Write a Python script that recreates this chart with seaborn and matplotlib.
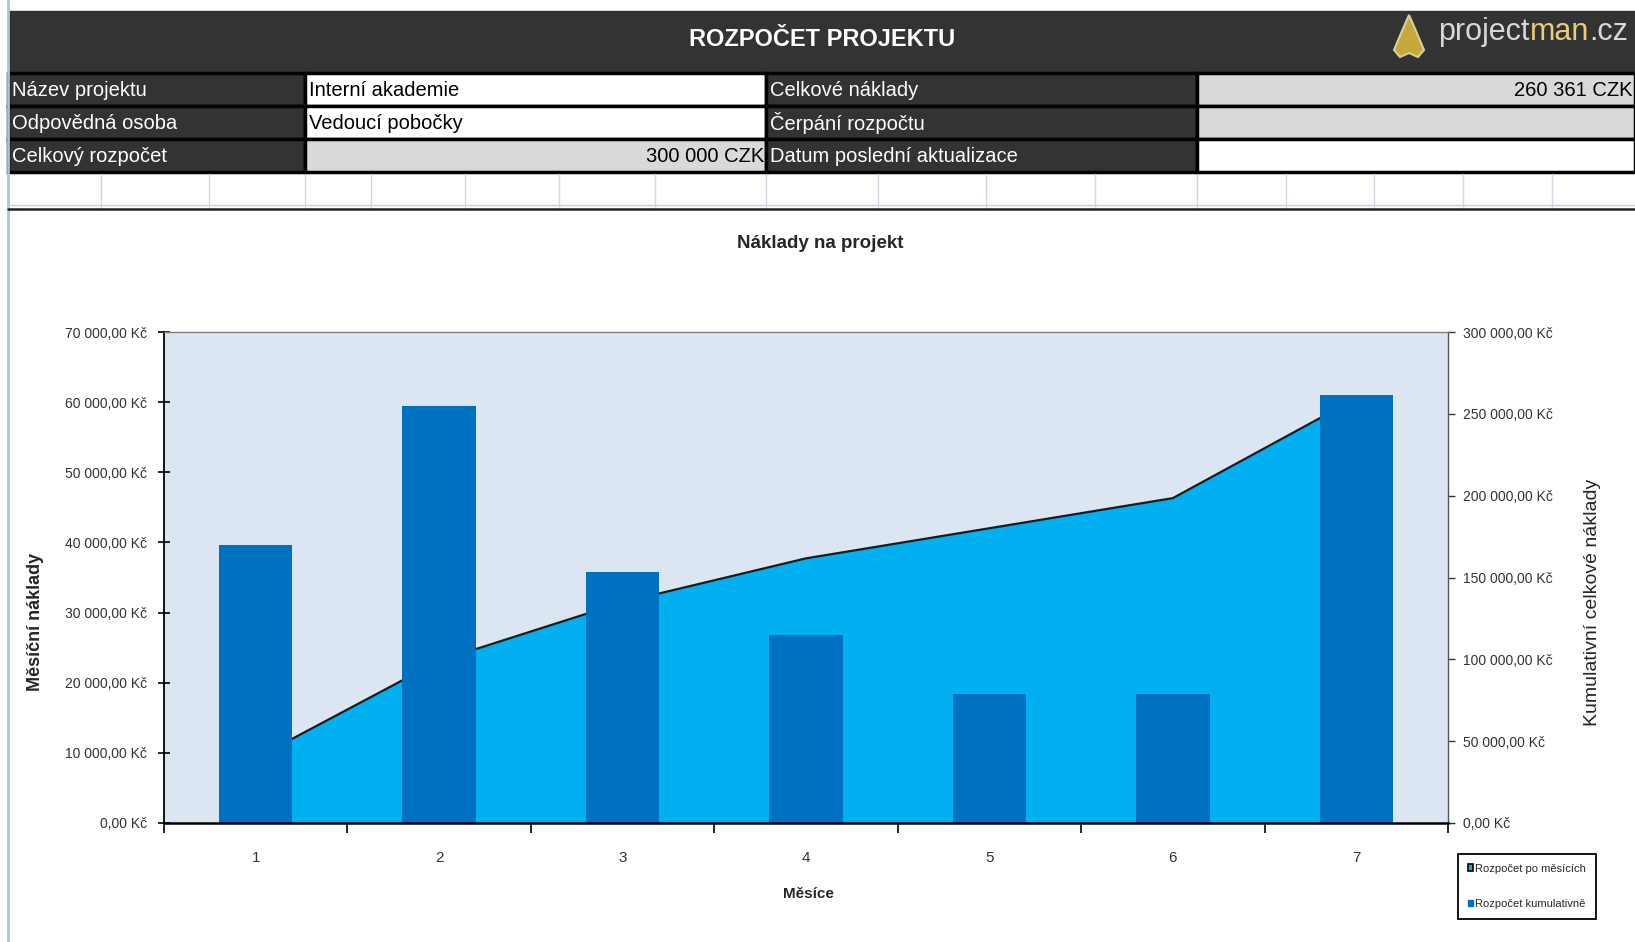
import numpy as np
import matplotlib
matplotlib.use('Agg')
import matplotlib.pyplot as plt
import seaborn as sns
from matplotlib.patches import Rectangle, Polygon, Patch
from matplotlib.offsetbox import TextArea, HPacker, AnnotationBbox

# data
months = ['1', '2', '3', '4', '5', '6', '7']
monthly = [39600, 59500, 35800, 26800, 18400, 18400, 61000]
cumulative = [39600, 99100, 134900, 161700, 180100, 198500, 259500]
left_ticks = [0, 10000, 20000, 30000, 40000, 50000, 60000, 70000]
right_ticks = [0, 50000, 100000, 150000, 200000, 250000, 300000]

header_title = 'ROZPOČET PROJEKTU'
header_rows = [
    ('Název projektu', 'Interní akademie', 'Celkové náklady', '260 361 CZK'),
    ('Odpovědná osoba', 'Vedoucí pobočky', 'Čerpání rozpočtu', ''),
    ('Celkový rozpočet', '300 000 CZK', 'Datum poslední aktualizace', ''),
]
value_fill = [('white', '#D9D9D9'), ('white', '#D9D9D9'), ('#D9D9D9', 'white')]
value_align = [('left', 'right'), ('left', 'right'), ('right', 'right')]
legend_labels = ['Rozpočet po měsících', 'Rozpočet kumulativně']

sns.set_style('white')
FONT = ['Liberation Sans', 'DejaVu Sans']
plt.rcParams['font.family'] = FONT

BAR = '#0070C0'
AREA = '#00B0F0'
PLOT_BG = '#DCE6F2'
DARK = '#333333'

W, H = 1635, 942
fig = plt.figure(figsize=(W / 100, H / 100), dpi=100)

# background axes in pixel coordinates for the spreadsheet header
bg = fig.add_axes([0, 0, 1, 1], zorder=0)
bg.set_xlim(0, W)
bg.set_ylim(H, 0)
bg.axis('off')

bg.plot([8, 8], [0, H], color='#A9C4E0', lw=2)
bg.add_patch(Rectangle((8, 11), W - 8, 61, color=DARK))
bg.text(822, 40, header_title, color='white', fontsize=17, fontweight='bold',
        ha='center', va='center')

# logo
bg.add_patch(Polygon([[1409, 15], [1416, 31], [1424, 50], [1418, 57], [1409, 53],
                      [1400, 57], [1394, 50], [1402, 31]], closed=True,
                     facecolor='#C8A83A', edgecolor='#D8CFA0', lw=1.5))
logo = HPacker(children=[
    TextArea('project', textprops=dict(color='#D8D8D8', fontsize=22)),
    TextArea('man', textprops=dict(color='#E6CF7A', fontsize=22)),
    TextArea('.cz', textprops=dict(color='#D8D8D8', fontsize=22)),
], align='baseline', pad=0, sep=0)
bg.add_artist(AnnotationBbox(logo, (1628, 32), xycoords='data', box_alignment=(1, 0.5),
                             frameon=False, pad=0))

cols = [8, 305, 766, 1197, W]
row_top = [73, 106, 139]
row_h = 33
for i, (l1, v1, l2, v2) in enumerate(header_rows):
    y0 = row_top[i]
    cells = [(l1, DARK, 'white', 'left'), (v1, value_fill[i][0], 'black', value_align[i][0]),
             (l2, DARK, 'white', 'left'), (v2, value_fill[i][1], 'black', value_align[i][1])]
    for j, (txt, fc, tc, ha) in enumerate(cells):
        x0, x1 = cols[j], cols[j + 1]
        bg.add_patch(Rectangle((x0, y0), x1 - x0, row_h, facecolor=fc, edgecolor='black', lw=2.5))
        tx = x0 + 4 if ha == 'left' else x1 - 2
        bg.text(tx, y0 + row_h / 2 + 1, txt, color=tc, fontsize=14.5, ha=ha, va='center')

# empty spreadsheet row with grid lines
for gx in [101, 209, 305, 371, 465, 559, 655, 766, 878, 986, 1095, 1197, 1286, 1374, 1463, 1552]:
    bg.plot([gx, gx], [174, 208], color='#D0D7E5', lw=1)
bg.plot([8, W], [205, 205], color='#C8D0DC', lw=1)
bg.plot([8, W], [209, 209], color='#222222', lw=1.8)

fig.text(820 / W, 1 - 244 / H, 'Náklady na projekt', fontsize=13.5, fontweight='bold',
         ha='center', va='center')

# chart axes
ax = fig.add_axes([164 / W, 1 - 823 / H, (1448 - 164) / W, (823 - 332) / H], zorder=2)
ax2 = ax.twinx()
ax.set_zorder(3)
ax.patch.set_visible(False)
ax2.patch.set_visible(True)
ax2.patch.set_facecolor(PLOT_BG)

xs = np.arange(len(months))
ax2.fill_between(xs, cumulative, color=AREA, lw=0)
sns.lineplot(x=xs, y=cumulative, ax=ax2, color='#1A1A1A', linewidth=1.6)
sns.barplot(x=months, y=monthly, ax=ax, color=BAR, saturation=1, width=0.4, linewidth=0)

ax.set_xlim(-0.5, 6.5)
ax.set_ylim(0, 70000)
ax2.set_ylim(0, 300000)


def kc(v):
    return f'{v:,.2f}'.replace(',', ' ').replace('.', ',') + ' Kč'


ax.set_yticks(left_ticks)
ax.set_yticklabels([kc(v) for v in left_ticks], fontsize=10, color='#333333')
ax2.set_yticks(right_ticks)
ax2.set_yticklabels([kc(v) for v in right_ticks], fontsize=10, color='#333333')
ax.tick_params(axis='y', direction='inout', length=8, width=1.2, color='black', pad=8, left=True)
ax2.tick_params(axis='y', direction='out', length=5, width=1, color='#333333', pad=6, right=True)

ax.set_xticks(xs)
ax.set_xticklabels(months, fontsize=11, color='#333333')
ax.set_xticks(np.arange(-0.5, 7, 1), minor=True)
ax.tick_params(axis='x', which='major', length=0, pad=20)
ax.tick_params(axis='x', which='minor', direction='out', length=7, width=1.2, color='black', bottom=True)

for s in ['top', 'right', 'left', 'bottom']:
    ax2.spines[s].set_visible(False)
ax.spines['right'].set_visible(False)
ax.spines['left'].set_color('black')
ax.spines['left'].set_linewidth(1.3)
ax.spines['bottom'].set_color('black')
ax.spines['bottom'].set_linewidth(1.8)
ax.spines['top'].set_color('#808080')
ax.spines['top'].set_linewidth(1)
ax2.spines['right'].set_visible(True)
ax2.spines['right'].set_color('#555555')
ax2.spines['right'].set_linewidth(1)

ax.set_xlabel('')
ax.set_ylabel('')
ax2.set_xlabel('')
ax2.set_ylabel('')

fig.text(36 / W, 1 - 622 / H, 'Měsíční náklady', rotation=90, fontsize=13, fontweight='bold',
         ha='center', va='center')
fig.text(1592 / W, 1 - 602 / H, 'Kumulativní celkové náklady', rotation=90, fontsize=14,
         ha='center', va='center')
fig.text(808 / W, 1 - 894 / H, 'Měsíce', fontsize=11, fontweight='bold',
         ha='center', va='center')

handles = [Patch(facecolor=AREA, edgecolor='black', lw=1.2), Patch(facecolor=BAR, edgecolor=BAR)]
leg = fig.legend(handles, legend_labels, loc='upper left',
                 bbox_to_anchor=(1452 / W, 1 - 848 / H), fancybox=False, framealpha=1,
                 edgecolor='black', handlelength=0.5, handleheight=0.5, handletextpad=0.2,
                 labelspacing=2.3, borderpad=0.9, prop=dict(size=8))
leg.get_frame().set_linewidth(1.3)

fig.savefig('out.png', dpi=100)
